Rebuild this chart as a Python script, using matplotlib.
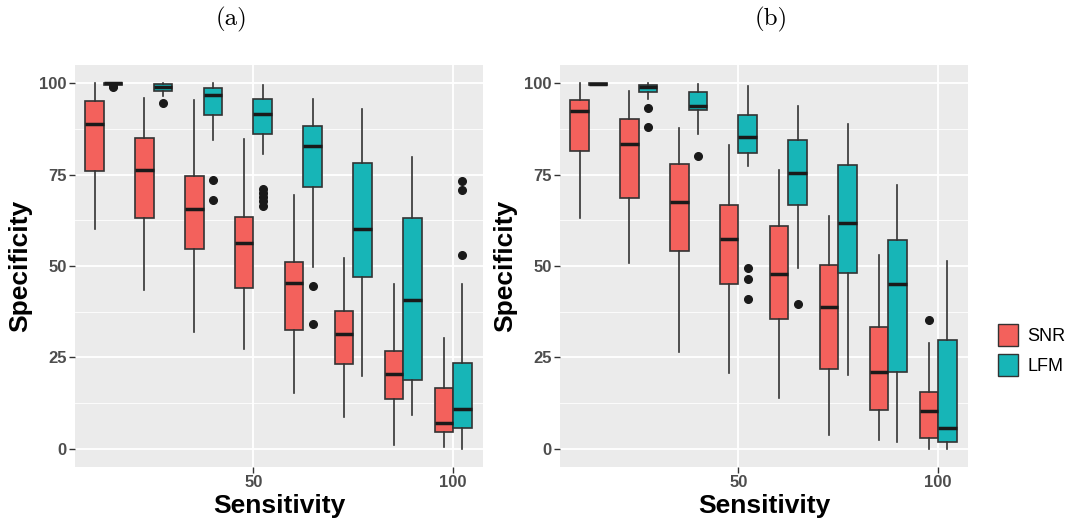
import numpy as np
import matplotlib.pyplot as plt
from matplotlib.patches import Patch
from matplotlib.ticker import MultipleLocator

plt.rcParams['font.family'] = ['Liberation Sans', 'DejaVu Sans']

# sensitivity levels (x positions of each group)
sens = [12.5, 25, 37.5, 50, 62.5, 75, 87.5, 100]

# box stats per group: whisker low, Q1, median, Q3, whisker high
snr_a = [
    [60.2, 75.9, 88.8, 95.1, 100.0],
    [43.4, 63.2, 76.3, 84.9, 95.9],
    [31.8, 54.7, 65.6, 74.5, 95.3],
    [27.3, 43.9, 56.3, 63.3, 84.8],
    [15.2, 32.5, 45.4, 51.0, 69.4],
    [8.6, 23.3, 31.3, 37.8, 52.3],
    [1.1, 13.7, 20.4, 26.6, 45.2],
    [0.4, 4.5, 7.0, 16.7, 30.4],
]
lfm_a = [
    [99.5, 99.6, 100.0, 100.0, 100.0],
    [96.4, 97.9, 99.1, 99.8, 100.0],
    [84.5, 91.4, 96.7, 98.8, 100.0],
    [80.7, 86.2, 91.6, 95.7, 99.5],
    [49.7, 71.6, 82.9, 88.2, 95.6],
    [19.9, 47.0, 60.1, 78.2, 93.0],
    [9.1, 18.7, 40.7, 63.0, 79.8],
    [0.0, 5.7, 10.8, 23.4, 45.0],
]
snr_a_out = [[], [], [], [], [], [], [], []]
lfm_a_out = [[98.9, 99.2], [94.7], [73.5, 68.0],
             [71.2, 70.1, 68.9, 67.7, 66.4], [44.6, 34.0], [], [],
             [73.2, 70.9, 52.9]]

snr_b = [
    [63.2, 81.5, 92.4, 95.4, 100.0],
    [50.9, 68.7, 83.3, 90.1, 98.0],
    [26.4, 54.1, 67.4, 78.0, 87.7],
    [20.7, 45.0, 57.4, 66.6, 83.0],
    [13.8, 35.4, 47.9, 61.0, 76.3],
    [3.8, 21.8, 38.9, 50.4, 63.8],
    [2.5, 10.5, 21.1, 33.4, 53.0],
    [0.0, 2.9, 10.2, 15.5, 28.8],
]
lfm_b = [
    [99.4, 99.4, 99.8, 100.0, 100.0],
    [95.7, 97.7, 99.1, 99.6, 100.0],
    [86.2, 92.7, 93.9, 97.5, 99.8],
    [77.3, 81.0, 85.3, 91.4, 99.2],
    [49.5, 66.7, 75.4, 84.6, 93.9],
    [20.2, 48.2, 61.7, 77.5, 88.9],
    [1.8, 21.1, 45.0, 57.1, 72.2],
    [0.0, 1.9, 5.8, 29.8, 51.5],
]
snr_b_out = [[], [], [], [], [], [], [], [35.2]]
lfm_b_out = [[], [93.2, 87.9], [80.0], [49.5, 46.4, 41.1], [39.5], [], [], []]

snr_col = '#F3615C'
lfm_col = '#17B5B7'
edge = '#333333'
box_w = 4.6


def make_stats(rows, outs):
    stats = []
    for r, o in zip(rows, outs):
        stats.append(dict(whislo=r[0], q1=r[1], med=r[2], q3=r[3],
                          whishi=r[4], fliers=o))
    return stats


def draw_boxes(ax, rows, outs, pos, color):
    res = ax.bxp(make_stats(rows, outs), positions=pos, widths=box_w,
                 patch_artist=True, showcaps=False, manage_ticks=False,
                 boxprops=dict(facecolor=color, edgecolor=edge, linewidth=1.2),
                 medianprops=dict(color='#1a1a1a', linewidth=2.5),
                 whiskerprops=dict(color=edge, linewidth=1.2),
                 flierprops=dict(marker='o', markerfacecolor='#1a1a1a',
                                 markeredgecolor='#1a1a1a', markersize=5.5))
    return res


def panel(ax, snr, snr_out, lfm, lfm_out):
    ax.set_facecolor('#EBEBEB')
    for s in ax.spines.values():
        s.set_visible(False)
    ax.yaxis.set_major_locator(MultipleLocator(25))
    ax.yaxis.set_minor_locator(MultipleLocator(12.5))
    ax.set_xticks([50, 100])
    ax.grid(which='major', axis='both', color='white', linewidth=1.3)
    ax.grid(which='minor', axis='y', color='white', linewidth=0.6)
    ax.tick_params(which='minor', length=0)
    ax.tick_params(which='major', length=4, width=1, color='#333333',
                   labelsize=12, labelcolor='#4D4D4D', pad=2)
    for lab in ax.get_xticklabels() + ax.get_yticklabels():
        lab.set_fontweight('bold')
    ax.set_axisbelow(True)

    pos_s = [x - box_w / 2 for x in sens]
    pos_l = [x + box_w / 2 for x in sens]
    draw_boxes(ax, snr, snr_out, pos_s, snr_col)
    draw_boxes(ax, lfm, lfm_out, pos_l, lfm_col)

    ax.set_xlim(5.3, 107.5)
    ax.set_ylim(-5, 105)
    ax.set_xlabel('Sensitivity', fontsize=19, fontweight='bold', labelpad=3)
    ax.set_ylabel('Specificity', fontsize=19, fontweight='bold', labelpad=5)


fig = plt.figure(figsize=(10.74, 5.22), dpi=100)
ax1 = fig.add_axes([0.0698, 0.1054, 0.380, 0.7701])
ax2 = fig.add_axes([0.5214, 0.1054, 0.380, 0.7701])

panel(ax1, snr_a, snr_a_out, lfm_a, lfm_a_out)
panel(ax2, snr_b, snr_b_out, lfm_b, lfm_b_out)

fig.text(231 / 1074, 0.963, '(a)', fontsize=18, family='cmr10',
         ha='center', va='center')
fig.text(771 / 1074, 0.963, '(b)', fontsize=18, family='cmr10',
         ha='center', va='center')

handles = [Patch(facecolor=snr_col, edgecolor=edge, label='SNR'),
           Patch(facecolor=lfm_col, edgecolor=edge, label='LFM')]
fig.legend(handles=handles, loc='center left',
           bbox_to_anchor=(982 / 1074, 1 - 350 / 522), frameon=False,
           fontsize=13, handlelength=1.1, handleheight=1.5,
           handletextpad=0.5, labelspacing=0.4)

fig.savefig('out.png', dpi=100)
